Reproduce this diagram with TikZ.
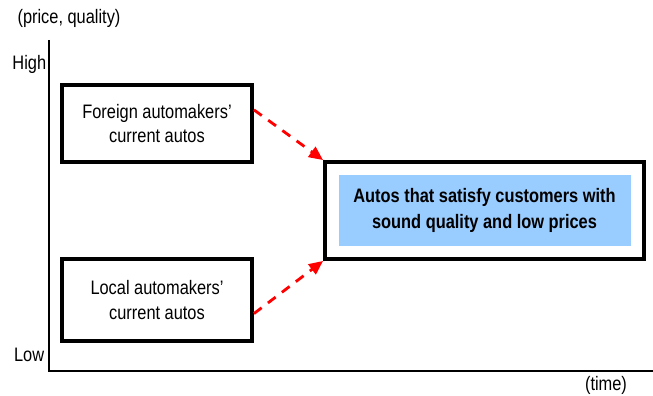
\documentclass[tikz,border=0pt]{standalone}
\usepackage{fontspec}
\setmainfont[FakeStretch=0.84]{Liberation Sans}
\usetikzlibrary{arrows.meta}
\definecolor{paleblue}{HTML}{99CCFF}
\begin{document}
\begin{tikzpicture}[
		autobox/.style={draw, line width=2.2pt, align=center, inner sep=0pt},
		trend/.style={red, line width=1.6pt, dash pattern=on 5.5pt off 4.5pt, -{Triangle[length=8pt,width=7pt]}},
		axis/.style={line width=1.1pt},
		font=\fontsize{11.1}{13.8}\selectfont]
		\useasboundingbox (0,0) rectangle (13.06,7.92);
		%
		\node (quality)   at (1.38,7.56)  {(price, quality)};
		\node (high)   at (0.93,6.64)  [anchor=east, inner sep=0pt] {High};
		\node (low)   at (0.89,0.82)  [anchor=east, inner sep=0pt] {Low};
		\node (time)   at (12.12,0.22)  {(time)};
		%
		\coordinate (top)   at (0.98,7.12);
		\coordinate (origin)   at (0.98,0.5);
		\coordinate (right)   at (13.06,0.5);
		\draw[axis] (top) -- (origin) -- (right);
		%
		\node (foreign)   at (3.14,5.45)  [autobox, minimum width=3.8cm, minimum height=1.54cm] {Foreign automakers'\\current autos};
		\node (local)   at (3.14,1.92)  [autobox, minimum width=3.8cm, minimum height=1.64cm] {Local automakers'\\current autos};
		%
		\node (target)   at (9.69,3.71)  [autobox, minimum width=6.38cm, minimum height=1.94cm] {};
		\node (ideal)   at (target.center)  [fill=paleblue, minimum width=5.84cm, minimum height=1.42cm, align=center, inner sep=0pt, font=\fontsize{11.1}{14.6}\selectfont\bfseries] {Autos that satisfy customers with\\sound quality and low prices};
		%
		\draw[trend] (foreign.8) -- (target.north west);
		\draw[trend] (local.-8) -- (target.south west);
	\end{tikzpicture}
\end{document}
